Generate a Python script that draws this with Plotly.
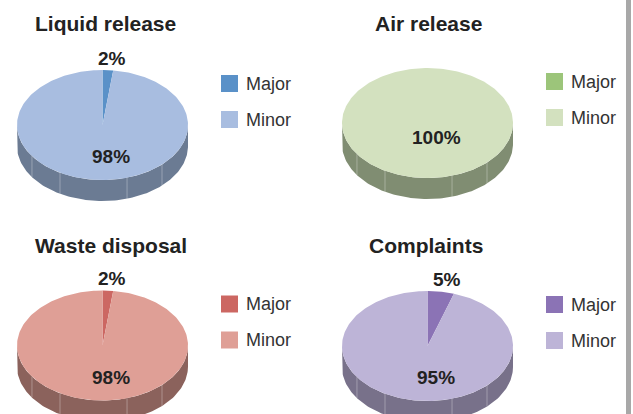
import numpy as np
import plotly.graph_objects as go

# ---------------- data ----------------
categories = ["Major", "Minor"]
panel_titles = ["Liquid release", "Air release", "Waste disposal", "Complaints"]
liquid_release = [2, 98]
air_release = [0, 100]
waste_disposal = [2, 98]
complaints = [5, 95]
panel_values = [liquid_release, air_release, waste_disposal, complaints]

# ---------------- style ----------------
top_colors = [
    ["#5a91c8", "#a8bde0"],
    ["#9cc57a", "#d3e1bf"],
    ["#cc6762", "#df9f96"],
    ["#8b73b5", "#bdb4d7"],
]
side_colors = [
    ["#3a5c80", "#6b7b93"],
    ["#64804e", "#808d72"],
    ["#83423f", "#8b625c"],
    ["#594a74", "#78718a"],
]
# pie centres (pixels), radii, depth
centers = [(102.5, 125.0), (427.5, 123.0), (102.5, 345.5), (427.5, 346.0)]
title_pos = [(105, 23), (428, 23), (111, 245), (426, 245)]
RX, RY, DEPTH = 85.5, 55.0, 21.0
FONT = "Liberation Sans, Arial, Helvetica, sans-serif"
separator_fracs = [-0.825, -0.497, 0.287, 0.696]  # side panel seam positions

W, H = 633, 414
fig = go.Figure()


def ell(cx, cy, th, dy=0.0):
    return cx + RX * np.sin(th), cy - RY * np.cos(th) + dy


annotations = []
for p, (title, vals) in enumerate(zip(panel_titles, panel_values)):
    cx, cy = centers[p]
    total = float(sum(vals))
    fracs = [v / total for v in vals]
    starts = np.cumsum([0.0] + fracs[:-1]) * 2 * np.pi
    ends = np.cumsum(fracs) * 2 * np.pi

    # side band (front half only)
    for i in range(len(vals)):
        if fracs[i] <= 0:
            continue
        s0 = max(starts[i], np.pi / 2)
        s1 = min(ends[i], 3 * np.pi / 2)
        if s1 <= s0:
            continue
        th = np.linspace(s0, s1, 120)
        xt, yt = ell(cx, cy, th)
        xb, yb = ell(cx, cy, th[::-1], DEPTH)
        fig.add_trace(go.Scatter(
            x=np.concatenate([xt, xb]), y=np.concatenate([yt, yb]),
            mode="lines", fill="toself", fillcolor=side_colors[p][i],
            line=dict(width=0), hoverinfo="skip"))
    # seams on the side
    for f in separator_fracs:
        th = np.pi - np.arcsin(f)
        x0, y0 = ell(cx, cy, th)
        fig.add_trace(go.Scatter(
            x=[x0, x0], y=[y0, y0 + DEPTH], mode="lines",
            line=dict(color="rgba(255,255,255,0.3)", width=1),
            hoverinfo="skip"))

    # top slices
    for i in range(len(vals)):
        if fracs[i] <= 0:
            continue
        th = np.linspace(starts[i], ends[i], 240)
        xs, ys = ell(cx, cy, th)
        if fracs[i] < 1:
            xs = np.concatenate([[cx], xs, [cx]])
            ys = np.concatenate([[cy], ys, [cy]])
        fig.add_trace(go.Scatter(
            x=xs, y=ys, mode="lines", fill="toself",
            fillcolor=top_colors[p][i], line=dict(width=0),
            hoverinfo="skip"))

    # percentage labels
    for i in range(len(vals)):
        if fracs[i] <= 0:
            continue
        mid = (starts[i] + ends[i]) / 2
        if fracs[i] >= 1:
            lx, ly = cx + 9, cy + 14
        elif fracs[i] < 0.1:
            lx = cx + RX * 1.22 * np.sin(mid) + 3
            ly = cy - RY * 1.22 * np.cos(mid)
        else:
            lx, ly = cx + 8, cy + RY * 0.58
        annotations.append(dict(
            x=lx, y=ly, xref="x", yref="y", text=f"<b>{vals[i]:g}%</b>",
            showarrow=False, xanchor="center", yanchor="middle",
            font=dict(family=FONT, size=19, color="#222222")))

    # title
    tx, ty = title_pos[p]
    annotations.append(dict(
        x=tx, y=ty, xref="x", yref="y", text=f"<b>{title}</b>",
        showarrow=False, xanchor="center", yanchor="middle",
        font=dict(family=FONT, size=21, color="#222222")))

    # legend
    lgx = cx + 127
    for i, cat in enumerate(categories):
        ly = cy - 41.5 + 36 * i
        fig.add_trace(go.Scatter(
            x=[lgx], y=[ly], mode="markers",
            marker=dict(symbol="square", size=17, color=top_colors[p][i],
                        line=dict(width=0)),
            hoverinfo="skip"))
        annotations.append(dict(
            x=lgx + 14.5, y=ly, xref="x", yref="y", text=cat,
            showarrow=False, xanchor="left", yanchor="middle",
            font=dict(family=FONT, size=18, color="#333333")))

fig.update_layout(
    width=W, height=H,
    margin=dict(l=0, r=0, t=0, b=0),
    paper_bgcolor="white", plot_bgcolor="white",
    showlegend=False,
    hovermode=False,
    xaxis=dict(range=[0, W], visible=False, fixedrange=True),
    yaxis=dict(range=[H, 0], visible=False, fixedrange=True),
    annotations=annotations,
    shapes=[dict(type="rect", xref="x", yref="y", x0=626, x1=631, y0=0, y1=H,
                 fillcolor="#a8a8a8", line=dict(width=0), layer="below")],
)

fig.write_html("out.html", config={"displayModeBar": False},
               post_script=["document.body.style.margin='0px';"])
